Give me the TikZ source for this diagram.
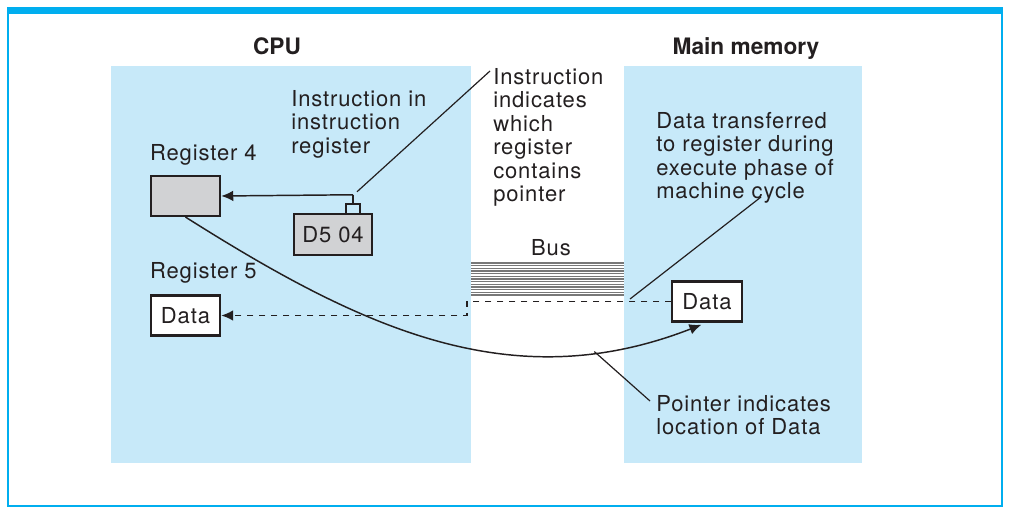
\documentclass[tikz,border=0pt]{standalone}
\usepackage{fontspec}
\setmainfont{TeX Gyre Heros}
\newfontfamily\labelfont{TeX Gyre Heros}[LetterSpace=4]
\usetikzlibrary{arrows.meta, positioning}
\definecolor{frameblue}{RGB}{0,174,239}
\definecolor{panelblue}{RGB}{199,233,249}
\definecolor{ink}{RGB}{35,31,32}
\definecolor{regfill}{RGB}{209,210,212}
\definecolor{busgray}{RGB}{120,120,120}

\begin{document}
\begin{tikzpicture}
  [
  x=0.75pt, y=-0.75pt,
  % register
  reg/.style = {rectangle,
    draw=ink, line width=1.6pt,
    fill=regfill, text=ink,
    minimum width=52pt,
    minimum height=30pt,
    inner sep=0pt,
    font=\labelfont\fontsize{16.5}{17.6}\selectfont},
  % text
  txt/.style = {inner sep=0pt, align=left,
    anchor=north west, text=ink,
    font=\labelfont\fontsize{16.5}{17.6}\selectfont},
  % heading
  head/.style = {inner sep=0pt, anchor=north, text=ink,
    font=\bfseries\fontsize{17}{20}\selectfont},
  % line
  line/.style = {draw=ink, line width=1.1pt},
  arrowline/.style = {line, -{Latex[length=9pt, width=8pt]}},
  leader/.style = {draw=ink, line width=0.9pt},
  ]

  \useasboundingbox (0,0) rectangle (1012,517);

  % frame
  \fill [frameblue] (7,7) rectangle (1003,14);
  \draw [frameblue, line width=1.5pt] (8,14) -- (8,505.5) -- (1002,505.5) -- (1002,14);

  % panels
  \fill [panelblue] (111,66) rectangle (471,463);
  \fill [panelblue] (624,66) rectangle (862,463);

  % headings
  \node [head] (cpu) at (277,37) {CPU};
  \node [head] (mem) at (746,37) {Main memory};

  % nodes
  \node [reg] (reg4) at (185.5,196) {};
  \node [reg, minimum width=58.5pt, minimum height=31pt] (ir) at (333,234.5) {D5 04};
  \node [reg, fill=white] (reg5) at (185.5,315.5) {Data};
  \node [reg, fill=white] (mdata) at (707,301.5) {Data};

  % labels
  \node [txt, above=7pt of reg4.north west, anchor=south west] (lreg4) {Register 4};
  \node [txt, above=8.5pt of reg5.north west, anchor=south west] (lreg5) {Register 5};
  \node [txt] (irtext) at (291,90) {Instruction in\\instruction\\register};
  \node [txt] (which) at (493,68) {Instruction\\indicates\\which\\register\\contains\\pointer};
  \node [txt] (xfer) at (656,112) {Data transferred\\to register during\\execute phase of\\machine cycle};
  \node [txt] (ptrtext) at (656,395) {Pointer indicates\\location of Data};
  \node [txt, anchor=north] (bus) at (551,239) {Bus};

  % bus
  \foreach \k in {0,...,12}
    \draw [busgray, line width=0.9pt] (471,{263+2.67*\k}) -- (624,{263+2.67*\k});

  % bracket on the instruction register
  \coordinate (stem) at ([xshift=15pt]ir.north);
  \coordinate (tap) at ([yshift=13.5pt]stem);
  \draw [line] ([xshift=-5.25pt]stem) -- ([xshift=-5.25pt, yshift=6.75pt]stem)
    -- ([xshift=5.25pt, yshift=6.75pt]stem) -- ([xshift=5.25pt]stem);
  \draw [line] ([yshift=6.75pt]stem) -- (tap);

  % path
  \path [arrowline] (tap) -- (reg4.east);
  \coordinate (jog) at (467,308);
  \path [arrowline, dash pattern=on 4.5pt off 4.5pt] (mdata.west) -| (jog) |- (reg5.east);
  \path [arrowline, shorten >=4.5pt] (reg4.south) .. controls (361,328) and (511,399) .. (mdata.south)
    coordinate [pos=0.8] (dip);

  % leaders
  \coordinate (xferfoot) at (630,299);
  \coordinate (xfertop) at (761,197);
  \path [leader] ([xshift=3pt, yshift=2.25pt]tap) -- ([xshift=-2.25pt, yshift=-2.25pt]which.north west);
  \path [leader] (xferfoot) -- (xfertop);
  \path [leader] (dip) -- ([xshift=-4.5pt, yshift=-4.5pt]ptrtext.north west);

\end{tikzpicture}
\end{document}
